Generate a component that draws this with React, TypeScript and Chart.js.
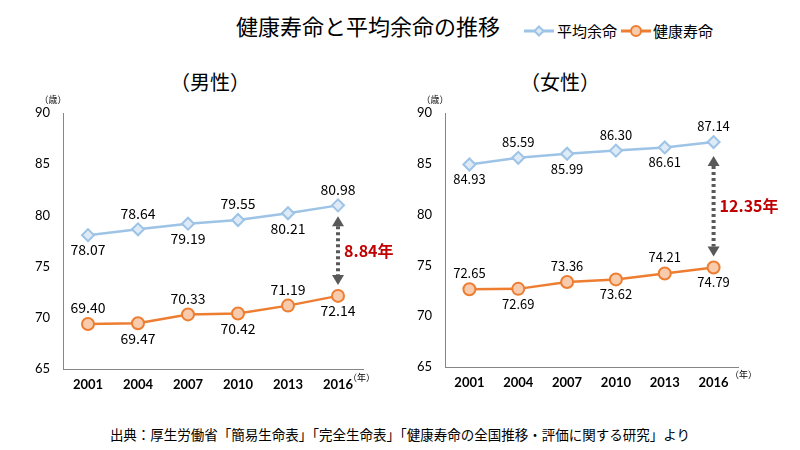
import React, { useEffect, useRef } from "react";
import { Chart, registerables } from "chart.js";
Chart.register(...registerables);

const years = ["2001", "2004", "2007", "2010", "2013", "2016"];
const maleLifeExpectancy = [78.07, 78.64, 79.19, 79.55, 80.21, 80.98];
const maleHealthyLife = [69.4, 69.47, 70.33, 70.42, 71.19, 72.14];
const femaleLifeExpectancy = [84.93, 85.59, 85.99, 86.3, 86.61, 87.14];
const femaleHealthyLife = [72.65, 72.69, 73.36, 73.62, 74.21, 74.79];
const lifeLabelPos = ["below", "above", "below", "above", "below", "above"];
const healthyLabelPos = ["above", "below", "above", "below", "above", "below"];
const yMin = 65;
const yMax = 90;
const yStep = 5;
const seriesNames = ["平均余命", "健康寿命"];
const maleGapLabel = "8.84年";
const femaleGapLabel = "12.35年";

const BLUE = "#9DC3E6";
const BLUE_FILL = "#DEEBF7";
const ORANGE = "#ED7D31";
const ORANGE_FILL = "#F8CBAD";
const JP = '"Noto Sans CJK JP", "Noto Sans", sans-serif';

type Cfg = {
  life: number[];
  healthy: number[];
  gapLabel: string;
  axisWidth: number;
  padRight: number;
  xHeight: number;
  labelSize: number;
  nenDx: number;
  nenDy: number;
  topGap: number;
};

function makePlugin(cfg: Cfg) {
  return {
    id: "annot",
    afterDatasetsDraw(chart: any) {
      const ctx = chart.ctx;
      const ca = chart.chartArea;
      const posList = [lifeLabelPos, healthyLabelPos];
      const dataList = [cfg.life, cfg.healthy];
      ctx.save();
      ctx.fillStyle = "#000";
      ctx.font = `${cfg.labelSize}px ${JP}`;
      ctx.textAlign = "center";
      ctx.textBaseline = "middle";
      for (let d = 0; d < 2; d++) {
        const meta = chart.getDatasetMeta(d);
        meta.data.forEach((pt: any, i: number) => {
          const above = posList[d][i] === "above";
          const y = above ? pt.y - 16 : pt.y + 15;
          ctx.fillText(dataList[d][i].toFixed(2), pt.x, y);
        });
      }
      // gap arrow
      const last = cfg.life.length - 1;
      const top = chart.getDatasetMeta(0).data[last];
      const bot = chart.getDatasetMeta(1).data[last];
      const x = top.x;
      const y1 = top.y + cfg.topGap;
      const y2 = bot.y - 11;
      const head = 10;
      ctx.strokeStyle = "#595959";
      ctx.fillStyle = "#595959";
      ctx.lineWidth = 4;
      ctx.setLineDash([3, 3]);
      ctx.beginPath();
      ctx.moveTo(x, y1 + head);
      ctx.lineTo(x, y2 - head);
      ctx.stroke();
      ctx.setLineDash([]);
      ctx.beginPath();
      ctx.moveTo(x, y1);
      ctx.lineTo(x - 6, y1 + head);
      ctx.lineTo(x + 6, y1 + head);
      ctx.closePath();
      ctx.fill();
      ctx.beginPath();
      ctx.moveTo(x, y2);
      ctx.lineTo(x - 6, y2 - head);
      ctx.lineTo(x + 6, y2 - head);
      ctx.closePath();
      ctx.fill();
      ctx.fillStyle = "#C00000";
      ctx.font = `bold 16px ${JP}`;
      ctx.textAlign = "left";
      ctx.fillText(cfg.gapLabel, x + 6, (y1 + y2) / 2);
      // units
      ctx.fillStyle = "#000";
      ctx.font = `9px ${JP}`;
      ctx.textAlign = "center";
      ctx.fillText("（歳）", ca.left - 10, ca.top - 13);
      ctx.textAlign = "left";
      ctx.fillText("（年）", ca.right - cfg.nenDx, ca.bottom + cfg.nenDy);
      ctx.restore();
    },
  };
}

function LineChart({ cfg }: { cfg: Cfg }) {
  const ref = useRef<HTMLCanvasElement>(null);
  useEffect(() => {
    if (!ref.current) return;
    const chart = new Chart(ref.current, {
      type: "line",
      data: {
        labels: years,
        datasets: [
          {
            label: seriesNames[0],
            data: cfg.life,
            borderColor: BLUE,
            backgroundColor: BLUE_FILL,
            borderWidth: 2.5,
            pointStyle: "rectRot",
            pointRadius: 6,
            pointBorderWidth: 2,
            pointBackgroundColor: BLUE_FILL,
            pointBorderColor: BLUE,
          },
          {
            label: seriesNames[1],
            data: cfg.healthy,
            borderColor: ORANGE,
            backgroundColor: ORANGE_FILL,
            borderWidth: 2.5,
            pointStyle: "circle",
            pointRadius: 6,
            pointBorderWidth: 2,
            pointBackgroundColor: ORANGE_FILL,
            pointBorderColor: ORANGE,
          },
        ],
      },
      options: {
        animation: false,
        responsive: false,
        layout: { padding: { left: 0, right: cfg.padRight, top: 23, bottom: 0 } },
        plugins: { legend: { display: false }, tooltip: { enabled: false } },
        scales: {
          x: {
            offset: true,
            grid: { display: false, drawTicks: false },
            border: { display: true, color: "#868686", width: 1 },
            ticks: {
              color: "#000",
              padding: 8,
              font: { family: "Lato, sans-serif", size: 13, weight: "bold" },
            },
            afterFit(scale: any) {
              scale.height = cfg.xHeight;
            },
          },
          y: {
            min: yMin,
            max: yMax,
            grid: { display: false, drawTicks: false },
            border: { display: true, color: "#868686", width: 1 },
            ticks: {
              stepSize: yStep,
              color: "#000",
              padding: 13,
              font: { family: "Lato, sans-serif", size: 13 },
            },
            afterFit(scale: any) {
              scale.width = cfg.axisWidth;
            },
          },
        },
      },
      plugins: [makePlugin(cfg)],
    } as any);
    return () => chart.destroy();
  }, []);
  return <canvas ref={ref} width={400} height={310} />;
}

function LegendMarker({ color, fill, diamond }: { color: string; fill: string; diamond: boolean }) {
  return (
    <svg width={30} height={14} style={{ display: "block" }}>
      <line x1={0} y1={7} x2={30} y2={7} stroke={color} strokeWidth={3} />
      {diamond ? (
        <polygon points="15,2.5 19.5,7 15,11.5 10.5,7" fill={fill} stroke={color} strokeWidth={2} />
      ) : (
        <circle cx={15} cy={7} r={5} fill={fill} stroke={color} strokeWidth={2} />
      )}
    </svg>
  );
}

export default function App() {
  const abs = (s: React.CSSProperties): React.CSSProperties => ({ position: "absolute", ...s });
  return (
    <div
      style={{
        position: "fixed",
        left: 0,
        top: 0,
        width: 800,
        height: 450,
        background: "#fff",
        fontFamily: JP,
        color: "#000",
        overflow: "hidden",
      }}
    >
      <div style={abs({ left: 236, top: 10, width: 270, fontSize: 22, lineHeight: "30px", whiteSpace: "nowrap" })}>
        健康寿命と平均余命の推移
      </div>
      <div style={abs({ left: 524, top: 21, display: "flex", alignItems: "center", fontSize: 15, lineHeight: "20px", whiteSpace: "nowrap" })}>
        <LegendMarker color={BLUE} fill={BLUE_FILL} diamond={true} />
        <span style={{ marginLeft: 3, marginRight: 4 }}>{seriesNames[0]}</span>
        <LegendMarker color={ORANGE} fill={ORANGE_FILL} diamond={false} />
        <span style={{ marginLeft: 2 }}>{seriesNames[1]}</span>
      </div>
      <div style={abs({ left: 110, top: 68, width: 200, textAlign: "center", fontSize: 20, lineHeight: "28px" })}>（男性）</div>
      <div style={abs({ left: 460, top: 68, width: 200, textAlign: "center", fontSize: 20, lineHeight: "28px" })}>（女性）</div>
      <div style={abs({ left: 0, top: 90 })}>
        <LineChart
          cfg={{
            life: maleLifeExpectancy,
            healthy: maleHealthyLife,
            gapLabel: maleGapLabel,
            axisWidth: 63,
            padRight: 37,
            xHeight: 31,
            labelSize: 14,
            nenDx: 15,
            nenDy: 9,
            topGap: 11,
          }}
        />
      </div>
      <div style={abs({ left: 400, top: 90 })}>
        <LineChart
          cfg={{
            life: femaleLifeExpectancy,
            healthy: femaleHealthyLife,
            gapLabel: femaleGapLabel,
            axisWidth: 45,
            padRight: 62,
            xHeight: 33,
            labelSize: 13,
            nenDx: 8,
            nenDy: 8,
            topGap: 14,
          }}
        />
      </div>
      <div style={abs({ left: 0, top: 424, width: 800, textAlign: "center", fontSize: 13.5, lineHeight: "20px", whiteSpace: "nowrap" })}>
        出典：厚生労働省「簡易生命表」「完全生命表」「健康寿命の全国推移・評価に関する研究」より
      </div>
    </div>
  );
}
